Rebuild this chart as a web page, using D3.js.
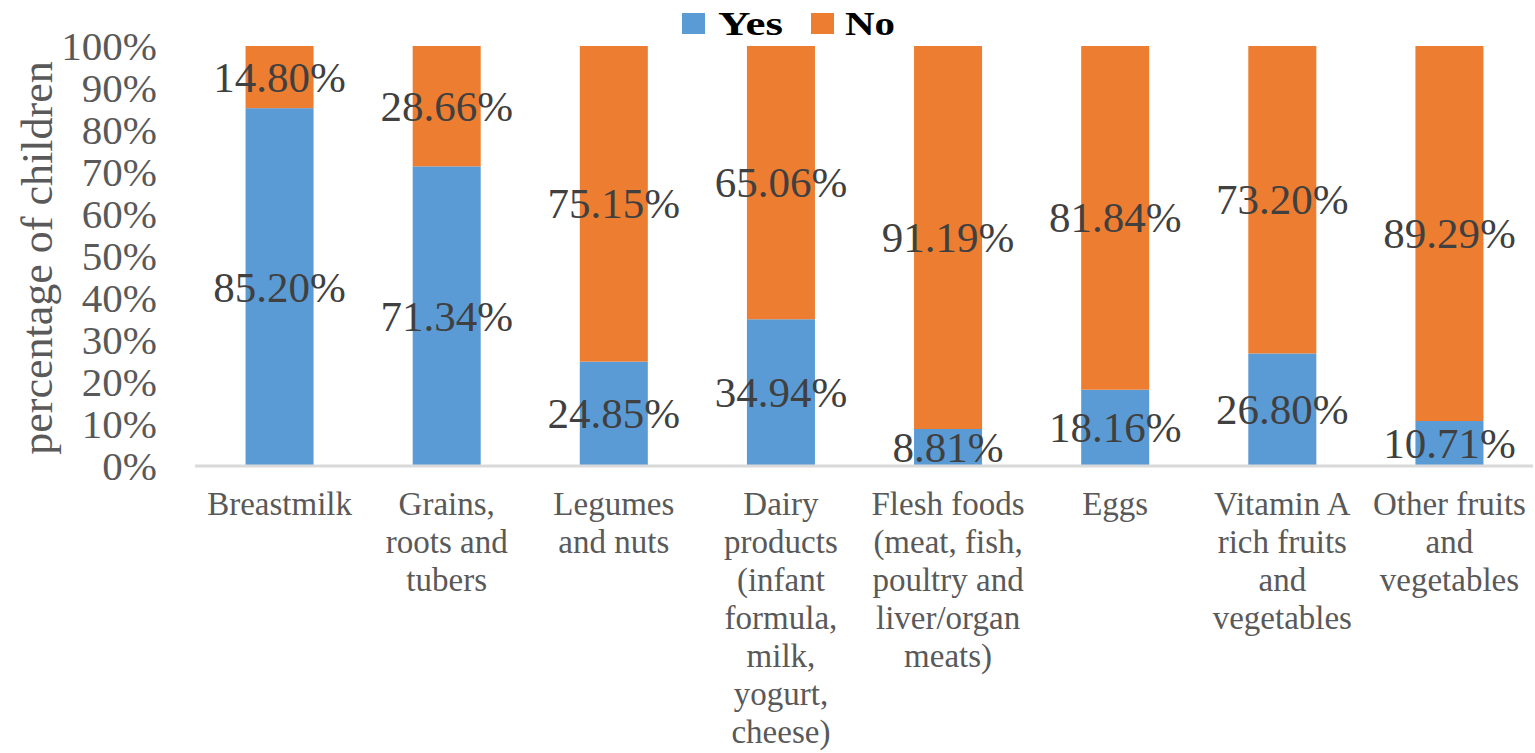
<!DOCTYPE html>
<html>
<head>
<meta charset="utf-8">
<script src="https://cdn.jsdelivr.net/npm/d3@7"></script>
<style>
  html, body { margin: 0; padding: 0; background: #ffffff; }
  svg { display: block; }
  text { font-family: "Liberation Serif", "Times New Roman", serif; }
</style>
</head>
<body>
<svg id="chart" width="1535" height="753"></svg>
<script>
// ---- data ----
const categories = [
  "Breastmilk",
  "Grains, roots and tubers",
  "Legumes and nuts",
  "Dairy products (infant formula, milk, yogurt, cheese)",
  "Flesh foods (meat, fish, poultry and liver/organ meats)",
  "Eggs",
  "Vitamin A rich fruits and vegetables",
  "Other fruits and vegetables"
];
const categoryLines = [
  ["Breastmilk"],
  ["Grains,", "roots and", "tubers"],
  ["Legumes", "and nuts"],
  ["Dairy", "products", "(infant", "formula,", "milk,", "yogurt,", "cheese)"],
  ["Flesh foods", "(meat, fish,", "poultry and", "liver/organ", "meats)"],
  ["Eggs"],
  ["Vitamin A", "rich fruits", "and", "vegetables"],
  ["Other fruits", "and", "vegetables"]
];
const yesValues = [85.20, 71.34, 24.85, 34.94, 8.81, 18.16, 26.80, 10.71];
const noValues  = [14.80, 28.66, 75.15, 65.06, 91.19, 81.84, 73.20, 89.29];
const seriesNames = ["Yes", "No"];
const yTicks = [0, 10, 20, 30, 40, 50, 60, 70, 80, 90, 100];
const yTitle = "percentage of children";

// ---- layout ----
const svg = d3.select("#chart");
const plot = { left: 196, right: 1533, top: 46, bottom: 466 };
const colors = { Yes: "#5B9BD5", No: "#ED7D31" };

const x = d3.scaleBand().domain(categories).range([plot.left, plot.right]).paddingInner(0.593).paddingOuter(0.2965);
const y = d3.scaleLinear().domain([0, 100]).range([plot.bottom, plot.top]);

const rows = categories.map((c, i) => ({ cat: c, Yes: yesValues[i], No: noValues[i] }));
const stacked = d3.stack().keys(seriesNames)(rows);

// bars
svg.append("g").selectAll("g").data(stacked).join("g")
  .attr("fill", d => colors[d.key])
  .selectAll("rect").data(d => d).join("rect")
  .attr("x", d => x(d.data.cat))
  .attr("width", x.bandwidth())
  .attr("y", d => y(d[1]))
  .attr("height", d => y(d[0]) - y(d[1]));

// x axis line
svg.append("line")
  .attr("x1", plot.left - 1).attr("x2", plot.right)
  .attr("y1", y(0)).attr("y2", y(0))
  .attr("stroke", "#D9D9D9").attr("stroke-width", 3);

// y axis labels via d3 axis
const yAxis = d3.axisLeft(y).tickValues(yTicks).tickFormat(d => d + "%").tickSize(0).tickPadding(0);
const gy = svg.append("g").attr("transform", "translate(157,0)").call(yAxis);
gy.attr("font-family", null);
gy.select(".domain").remove();
gy.selectAll("text")
  .attr("font-size", 41)
  .attr("fill", "#595959")
  .attr("dy", "0.34em");

// y title
svg.append("text")
  .attr("transform", `translate(52,${(plot.top + plot.bottom) / 2 + 2}) rotate(-90)`)
  .attr("text-anchor", "middle")
  .attr("font-size", 44)
  .attr("fill", "#595959")
  .text(yTitle);

// data labels
svg.append("g").selectAll("g").data(stacked).join("g")
  .selectAll("text").data(d => d.map(v => ({ v, key: d.key }))).join("text")
  .attr("x", d => x(d.v.data.cat) + x.bandwidth() / 2)
  .attr("y", d => (y(d.v[0]) + y(d.v[1])) / 2)
  .attr("dy", "0.34em")
  .attr("text-anchor", "middle")
  .attr("font-size", 43)
  .attr("fill", "#404040")
  .text(d => d.v.data[d.key].toFixed(2) + "%");

// category labels
const gx = svg.append("g");
categories.forEach((c, i) => {
  const t = gx.append("text")
    .attr("x", x(c) + x.bandwidth() / 2)
    .attr("y", 515)
    .attr("text-anchor", "middle")
    .attr("font-size", 33)
    .attr("fill", "#595959");
  categoryLines[i].forEach((ln, j) => {
    t.append("tspan").attr("x", x(c) + x.bandwidth() / 2).attr("y", 515 + j * 38).text(ln);
  });
});

// legend
const legend = svg.append("g");
const legendItems = [
  { key: "Yes", sx: 682, tx: 718, w: 65 },
  { key: "No", sx: 811, tx: 845, w: 50 }
];
legendItems.forEach(it => {
  legend.append("rect").attr("x", it.sx).attr("y", 13).attr("width", 23).attr("height", 21).attr("fill", colors[it.key]);
  legend.append("text").attr("x", it.tx).attr("y", 35)
    .attr("font-size", 34).attr("font-weight", "bold").attr("fill", "#000")
    .attr("textLength", it.w).attr("lengthAdjust", "spacingAndGlyphs")
    .text(it.key);
});
</script>
</body>
</html>
